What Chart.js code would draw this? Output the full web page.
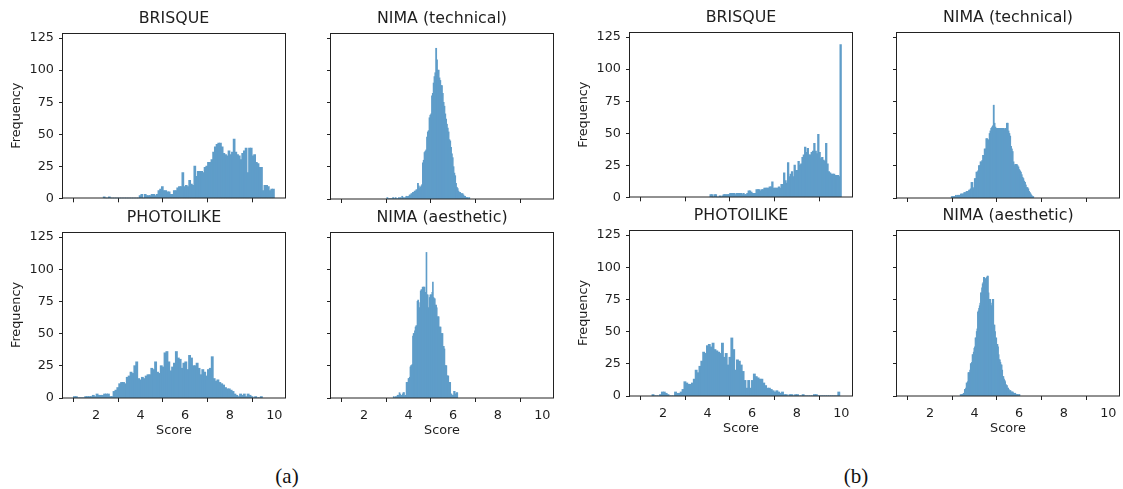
<!DOCTYPE html>
<html><head><meta charset="utf-8">
<script src="https://cdn.jsdelivr.net/npm/chart.js@4.4.1/dist/chart.umd.min.js"></script>
<style>
html,body{margin:0;padding:0;background:#fff;}
body{width:1123px;height:489px;position:relative;overflow:hidden;}
canvas{position:absolute;}
.cap{position:absolute;font-family:"Liberation Serif","DejaVu Serif",serif;font-size:21px;color:#111;transform:translate(-50%,-50%);white-space:nowrap;}
</style></head><body>
<div class="cap" style="left:287px;top:476px">(a)</div>
<div class="cap" style="left:856px;top:476px">(b)</div>
<script>
// ---- tick labels / axis limits ----
const xTicks = [2, 4, 6, 8, 10];
const yTicks = [0, 25, 50, 75, 100, 125];
const xLimits = [0.52, 10.48];
const yLimitTop = 129;

// ---- histogram counts (100 bins each, over the given score range) ----
const aBrisqueRange = [2.33, 10.0];
const aBrisque = [1,0,0,1,0,0,0,0,0,0, 0,0,0,0,0,0,0,0,0,0, 0,2,3,0,3,2,2,2,3,3,
  2,3,6,7,9,6,6,5,5,3, 3,6,6,8,9,9,20,9,10,9, 14,11,10,25,17,21,21,21,20,24,
  25,28,28,30,36,40,42,43,43,40, 35,34,33,37,34,36,46,36,34,33, 30,35,37,39,20,39,39,33,34,28,
  27,24,24,6,10,10,9,6,7,7];

const aTechRange = [3.03, 6.74];
const aTech = [1,0,0,0,0,0,0,1,0,0,1,0,0,0,1,0,1,0,2,0,1,0,1,2,1,
  2,2,3,3,4,4, 5,5,6,6,7,7, 12,10, 8,9,10,11, 28,30, 36,37,38, 48,52,53, 63,65,66,
  80,82,90, 95,98, 117,108, 100,100, 94,92, 88,88,82, 75,72,66, 62,58,55, 52,46,45,
  40,35,32, 25,20,18, 12,9,8, 6,5,5,4, 4,4,3,2, 2,1,1,1,0,1];

const aPhotoRange = [0.99, 9.46];
const aPhoto = [1,1,0,0,0,0,1,1,1,1, 2,1,3,2,2,2,3,3,3,1, 1,5,6,8,11,12,12,11,16,17,
  20,19,25,28,15,14,16,15,17,18, 18,23,22,28,20,19,25,24,35,36, 28,21,24,27,36,31,30,23,27,28,
  22,33,31,25,25,27,23,18,22,20, 17,22,23,32,15,13,14,12,11,10, 8,7,7,6,5,3,2,1,3,2,
  3,1,3,2,1,0,1,0,0,1];

const aAesRange = [3.32, 6.2];
const aAes = [1,0,0,1,0,1, 2,2,0, 4,3, 1,2,0, 3,4,4,1, 2,0, 12,12,12, 15,15,16, 24,25,25,26,
  48,50,50,52, 55,56,56, 75,76,74, 70,70,83, 84,84,86,86, 86,86,82, 82,113, 80,80,
  70,70,78,80,80,80,82,90,78, 77,77,72, 72,70,63, 63,63,55, 55,55,50, 50,50,40, 40,38,25,
  25,25,17, 17,17,12, 12,12,3, 3,2,2, 2,5,5, 3,3, 4,4];

const bBrisqueRange = [4.11, 10.0];
const bBrisque = [2,2,0,2,2,0,0,1,0,1, 2,2,2,2,2,3,3,3,3,2, 3,3,3,3,2,3,2,2,3,5,
  5,4,3,3,3,6,6,6,5,6, 6,7,7,7,7,8,8,12,7,7, 7,7,8,7,10,10,19,13,11,27,
  16,18,20,16,25,21,21,28,25,26, 31,33,39,35,38,33,33,35,36,42, 36,34,49,35,30,31,29,28,42,26,
  20,19,18,18,18,17,17,17,16,119];

const bTechRange = [2.96, 6.65];
const bTech = [1,1,1,1,1,2,1,2,2, 2,2,3,3,3,3, 4,4,4,5,5,5, 6,6,7, 12,12, 7,8, 15,15,
  20,20,21, 25,25, 28,28,29, 33,33, 38,38, 46,46, 45,45, 50,52,54,55,56,72,58,55,
  54,54,54,54,54,54,54,54,54,54, 53,54,52,58,58,52,50,48,40,38, 36,28,25,26,26,26,25,24,22,21,
  20,18,16,15,13,12,10,8,8,7, 5,4,3,2,1,1];

const bPhotoRange = [1.51, 9.93];
const bPhoto = [1,0,0,0,1,3,3,2,1,0, 0,0,3,2,2,3,5,11,10,9, 9,10,13,20,18,23,27,34,33,39,
  40,38,41,36,35,34,33,41,30,33, 24,30,45,36,20,28,27,24,19,12, 6,12,6,12,17,15,14,13,13,10,
  8,6,6,5,4,3,4,3,2,3, 1,1,0,1,1,0,1,1,0,0, 1,0,0,0,0,0,1,1,0,0,
  0,0,0,0,0,0,0,0,0,3];

const bAesRange = [3.36, 6.03];
const bAes = [1,0,1,1,1,2,2, 5,5,6, 10,10,11, 18,18,18,20, 25,25,26, 32,32,34, 37,38, 45,45, 50,52,
  65,66,68, 70,72, 80,80,84, 87,88,92, 92,91,91, 91,92,93,93, 80,75,75,75, 70,70, 72,75,75,
  55,55,50, 45,45,40, 40,38,32, 28,28,26, 24,24,20, 15,15,13, 12,11,9, 8,8,6, 6,5,4, 4,4,3,
  3,3,3, 2,2,2,2, 1,1,1,1,0,1,1];

// ---- layout (plot-area rectangles in page pixels) ----
const FONT = "'DejaVu Sans', 'Liberation Sans', sans-serif";
const TXT = '#1e1e1e';
const BAR = 'rgb(95,157,201)';
const PW = 222, PH = 166;
const panels = [
  {title:'BRISQUE', range:aBrisqueRange, counts:aBrisque, l:63, t:33, xl:false, yl:true},
  {title:'NIMA (technical)', range:aTechRange, counts:aTech, l:331, t:33, xl:false, yl:false},
  {title:'PHOTOILIKE', range:aPhotoRange, counts:aPhoto, l:63, t:232, xl:true, yl:true},
  {title:'NIMA (aesthetic)', range:aAesRange, counts:aAes, l:331, t:232, xl:true, yl:false},
  {title:'BRISQUE', range:bBrisqueRange, counts:bBrisque, l:630, t:32, xl:false, yl:true},
  {title:'NIMA (technical)', range:bTechRange, counts:bTech, l:897, t:32, xl:false, yl:false},
  {title:'PHOTOILIKE', range:bPhotoRange, counts:bPhoto, l:630, t:230, xl:true, yl:true},
  {title:'NIMA (aesthetic)', range:bAesRange, counts:bAes, l:897, t:230, xl:true, yl:false}
];

function toBins(range, counts) {
  const n = counts.length, w = (range[1] - range[0]) / n;
  return counts.map((c, i) => ({x: range[0] + (i + 0.5) * w, y: c}));
}

// frame around the plot area + subplot title centred over it
const framePlugin = {
  id: 'frame',
  afterDraw(chart, args, opts) {
    const {ctx, chartArea: a} = chart;
    ctx.save();
    ctx.strokeStyle = '#222';
    ctx.lineWidth = 1;
    ctx.strokeRect(Math.round(a.left) - 0.5, Math.round(a.top) + 0.5,
                   Math.round(a.right - a.left) + 1, Math.round(a.bottom - a.top) - 0.5);
    ctx.fillStyle = TXT;
    ctx.font = '15.8px ' + FONT;
    ctx.textAlign = 'center';
    ctx.textBaseline = 'middle';
    ctx.fillText(opts.text, (a.left + a.right) / 2, a.top - 14.5);
    ctx.restore();
  }
};

const LM = 60, TM = 30;
panels.forEach(p => {
  const xh = p.xl ? 50 : 12;
  const cv = document.createElement('canvas');
  const cw = LM + PW + 10, ch = TM + PH + xh;
  cv.width = cw; cv.height = ch;
  cv.style.left = (p.l - LM) + 'px';
  cv.style.top = (p.t - TM) + 'px';
  cv.style.width = cw + 'px';
  cv.style.height = ch + 'px';
  document.body.appendChild(cv);
  const gridOpts = {display:true, drawOnChartArea:false, drawTicks:true, tickLength:4, color:'#222', lineWidth:1};
  new Chart(cv, {
    type: 'bar',
    data: {datasets: [{data: toBins(p.range, p.counts), backgroundColor: BAR, borderWidth: 0,
                       barPercentage: 1, categoryPercentage: 1, inflateAmount: 0.5}]},
    options: {
      responsive: false, animation: false, devicePixelRatio: 1, events: [],
      layout: {padding: {left: 0, right: 10, top: TM, bottom: 0}},
      plugins: {
        legend: {display: false}, tooltip: {enabled: false}, title: {display: false},
        frame: {text: p.title}
      },
      scales: {
        x: {type: 'linear', min: xLimits[0], max: xLimits[1], offset: false,
            afterBuildTicks: s => { s.ticks = xTicks.map(v => ({value: v})); },
            afterFit: s => { s.height = xh; },
            grid: gridOpts, border: {display: false},
            ticks: {display: p.xl, color: TXT, font: {family: FONT, size: 12.8}, padding: 6,
                    maxRotation: 0, autoSkip: false, callback: v => String(v)},
            title: {display: p.xl, text: 'Score', color: TXT,
                    font: {family: FONT, size: 12.8, lineHeight: 1.2}, padding: {top: 0, bottom: 9.3}}},
        y: {min: 0, max: yLimitTop,
            afterBuildTicks: s => { s.ticks = yTicks.map(v => ({value: v})); },
            afterFit: s => { s.width = LM; },
            grid: gridOpts, border: {display: false},
            ticks: {display: p.yl, color: TXT, font: {family: FONT, size: 12.8}, padding: 5,
                    callback: v => String(v)},
            title: {display: p.yl, text: 'Frequency', color: TXT,
                    font: {family: FONT, size: 12.8, lineHeight: 1.2}, padding: {top: 6, bottom: 0}}}
      }
    },
    plugins: [framePlugin]
  });
});
</script>
</body></html>
